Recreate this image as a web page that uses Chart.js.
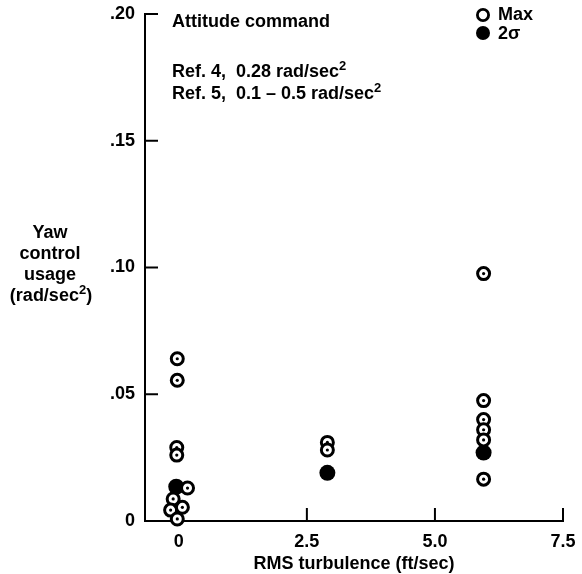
<!DOCTYPE html>
<html>
<head>
<meta charset="utf-8">
<script src="https://cdn.jsdelivr.net/npm/chart.js@4.4.1/dist/chart.umd.min.js"></script>
<style>
html,body{margin:0;padding:0;background:#fff}
#wrap{width:582px;height:574px}
</style>
</head>
<body>
<div id="wrap"><canvas id="chart"></canvas></div>
<script>
// ---- data ----
const maxX=[-0.03,-0.03,-0.04,-0.04,0.17,-0.11,-0.16,0.07,-0.03,2.9,2.9,5.95,5.95,5.95,5.95,5.95,5.95];
const maxY=[0.064,0.0555,0.029,0.026,0.013,0.0087,0.0043,0.0054,0.0008,0.031,0.028,0.0976,0.0475,0.040,0.036,0.032,0.0165];
const sigmaX=[-0.05,2.9,5.95];
const sigmaY=[0.0135,0.019,0.027];

const xTicks=[0,2.5,5,7.5];
const xTickLabels=["0","2.5","5.0","7.5"];
const yTicks=[0,0.05,0.10,0.15,0.20];
const yTickLabels=["0",".05",".10",".15",".20"];

const FONT='"Liberation Sans", Arial, sans-serif';

/* ===== helpers ===== */
function pts(xs,ys){return xs.map((x,i)=>({x:x,y:ys[i]}))}

// draws a line made of [text, isSuperscript] parts
function richText(ctx,parts,x,y,align){
  ctx.textBaseline="middle";
  let w=0;
  parts.forEach(p=>{ctx.font="bold "+(p[1]?13:18)+"px "+FONT;w+=ctx.measureText(p[0]).width});
  let cx=align==="center"?x-w/2:x;
  parts.forEach(p=>{
    ctx.font="bold "+(p[1]?13:18)+"px "+FONT;
    ctx.textAlign="left";
    ctx.fillText(p[0],cx,p[1]?y-6:y);
    cx+=ctx.measureText(p[0]).width;
  });
}

/* ===== extras: inward ticks, notes, legend ===== */
const extras={
  id:"extras",
  beforeDatasetsDraw(c){
    const ctx=c.ctx,a=c.chartArea,xs=c.scales.x,ys=c.scales.y;
    ctx.save();
    ctx.strokeStyle="#000";ctx.lineWidth=2;
    yTicks.slice(1).forEach(v=>{
      const p=ys.getPixelForValue(v);
      ctx.beginPath();ctx.moveTo(a.left,p);ctx.lineTo(a.left+13,p);ctx.stroke();
    });
    xTicks.slice(1).forEach(v=>{
      const p=xs.getPixelForValue(v);
      ctx.beginPath();ctx.moveTo(p,a.bottom);ctx.lineTo(p,a.bottom-13);ctx.stroke();
    });
    ctx.restore();
  },
  afterDraw(c){
    const ctx=c.ctx;
    ctx.save();
    ctx.fillStyle="#000";
    // notes
    richText(ctx,[["Attitude command",0]],172,22,"left");
    richText(ctx,[["Ref. 4,  0.28 rad/sec",0],["2",1]],172,72,"left");
    richText(ctx,[["Ref. 5,  0.1 \u2013 0.5 rad/sec",0],["2",1]],172,94,"left");
    // y title, horizontal lines
    richText(ctx,[["Yaw",0]],50,233,"center");
    richText(ctx,[["control",0]],50,254,"center");
    richText(ctx,[["usage",0]],50,275,"center");
    richText(ctx,[["(rad/sec",0],["2",1],[")",0]],51,296,"center");
    // x title
    richText(ctx,[["RMS turbulence (ft/sec)",0]],354,564,"center");
    // legend
    ctx.lineWidth=2.8;ctx.strokeStyle="#000";
    ctx.beginPath();ctx.arc(483,15,5.6,0,Math.PI*2);ctx.fillStyle="#fff";ctx.fill();ctx.stroke();
    ctx.fillStyle="#000";
    ctx.beginPath();ctx.arc(483,33,7,0,Math.PI*2);ctx.fill();
    richText(ctx,[["Max",0]],498,15,"left");
    richText(ctx,[["2\u03c3",0]],498,34,"left");
    ctx.restore();
  }
};

/* ===== chart ===== */
new Chart(document.getElementById("chart"),{
  type:"scatter",
  data:{datasets:[
    {label:"dot",data:pts(maxX,maxY),pointRadius:1.6,pointBackgroundColor:"#000",pointBorderWidth:0,order:0,clip:false},
    {label:"Max",data:pts(maxX,maxY),pointRadius:6,pointBorderWidth:3,pointBorderColor:"#000",pointBackgroundColor:"#fff",order:1,clip:false},
    {label:"2\u03c3",data:pts(sigmaX,sigmaY),pointRadius:8,pointBorderWidth:0,pointBackgroundColor:"#000",order:2,clip:false}
  ]},
  options:{
    responsive:true,maintainAspectRatio:false,animation:false,
    layout:{padding:{top:14,right:19,left:0,bottom:0}},
    plugins:{legend:{display:false},tooltip:{enabled:false}},
    scales:{
      x:{type:"linear",min:-0.66,max:7.5,
        afterBuildTicks:s=>{s.ticks=xTicks.map(v=>({value:v}))},
        afterFit:s=>{s.height=53},
        ticks:{callback:(v,i)=>xTickLabels[i],color:"#000",padding:2,maxRotation:0,font:{family:FONT,size:18,weight:"bold"}},
        grid:{display:false},
        border:{display:true,color:"#000",width:2}
      },
      y:{min:0,max:0.2,
        afterBuildTicks:s=>{s.ticks=yTicks.map(v=>({value:v}))},
        afterFit:s=>{s.width=145},
        ticks:{callback:(v,i)=>yTickLabels[i],color:"#000",padding:2,font:{family:FONT,size:18,weight:"bold"}},
        grid:{display:false},
        border:{display:true,color:"#000",width:2}
      }
    }
  },
  plugins:[extras]
});
</script>
</body>
</html>
